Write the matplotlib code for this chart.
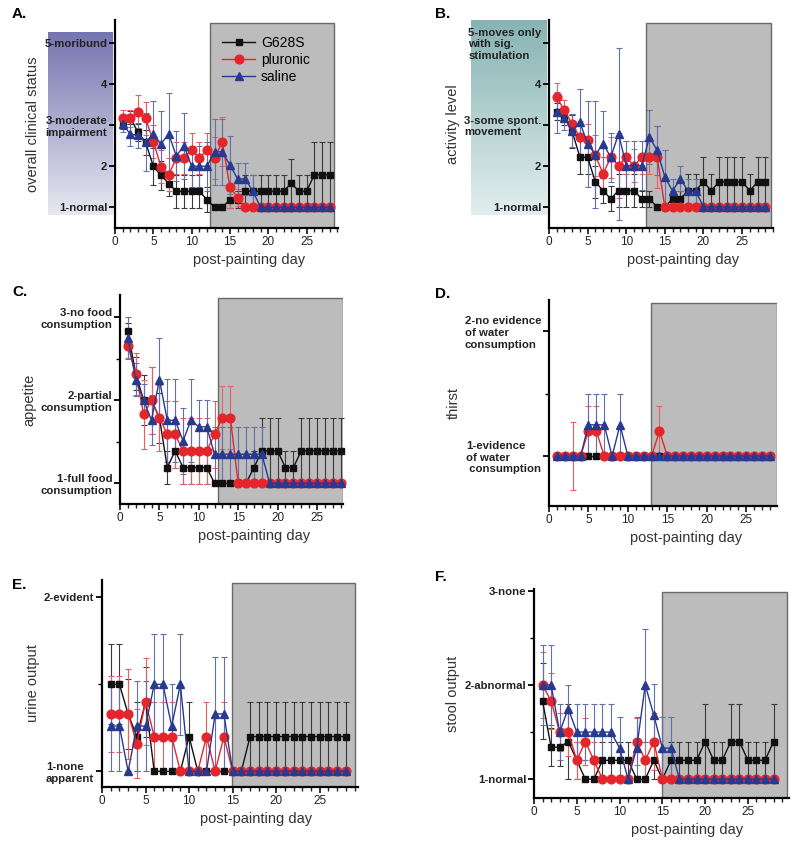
import matplotlib
matplotlib.use('Agg')
import matplotlib.pyplot as plt
import numpy as np
from matplotlib.colors import LinearSegmentedColormap
from matplotlib.ticker import MultipleLocator
from matplotlib.lines import Line2D

plt.rcParams['font.family'] = ['Liberation Sans', 'DejaVu Sans']

days = list(range(1, 29))
groups = ['G628S', 'pluronic', 'saline']

# A. overall clinical status
a_g628s = [3.0, 3.18, 2.82, 2.58, 2.0, 1.78, 1.58, 1.39, 1.39, 1.39, 1.39, 1.19, 1.0, 1.0,
           1.19, 1.19, 1.39, 1.39, 1.39, 1.39, 1.39, 1.39, 1.59, 1.39, 1.39, 1.79, 1.79, 1.79]
a_g628s_err = [0.1, 0.15, 0.2, 0.3, 0.45, 0.35, 0.3, 0.4, 0.4, 0.4, 0.4, 0.3, 0, 0,
               0.2, 0.2, 0.4, 0.4, 0.4, 0.4, 0.4, 0.4, 0.59, 0.4, 0.4, 0.79, 0.79, 0.79]
a_pluronic = [3.16, 3.16, 3.32, 3.16, 2.6, 1.99, 1.79, 2.2, 2.2, 2.4, 2.2, 2.4, 2.2, 2.6,
              1.49, 1.24, 1.0, 1.0, 1.0, 1.0, 1.0, 1.0, 1.0, 1.0, 1.0, 1.0, 1.0, 1.0]
a_pluronic_err = [0.2, 0.2, 0.4, 0.4, 0.4, 0.4, 0.4, 0.4, 0.4, 0.4, 0.4, 0.4, 0.5, 0.6,
                  0.5, 0.2, 0, 0, 0, 0, 0, 0, 0, 0, 0, 0, 0, 0]
a_saline = [3.02, 2.78, 2.75, 2.58, 2.78, 2.54, 2.78, 2.25, 2.5, 2.0, 2.0, 2.0, 2.35, 2.35,
            2.03, 1.69, 1.69, 1.39, 1.0, 1.0, 1.0, 1.0, 1.0, 1.0, 1.0, 1.0, 1.0, 1.0]
a_saline_err = [0.2, 0.3, 0.3, 0.7, 0.8, 0.8, 1.0, 0.6, 0.8, 0.5, 0.5, 0.6, 0.8, 0.8,
                0.7, 0.4, 0.4, 0.4, 0, 0, 0, 0, 0, 0, 0, 0, 0, 0]

# B. activity level
b_g628s = [3.32, 3.19, 2.84, 2.21, 2.21, 1.61, 1.4, 1.2, 1.4, 1.4, 1.4, 1.2, 1.2, 1.0,
           1.0, 1.2, 1.2, 1.4, 1.4, 1.61, 1.4, 1.61, 1.61, 1.61, 1.61, 1.4, 1.61, 1.61]
b_g628s_err = [0.2, 0.2, 0.4, 0.4, 0.4, 0.4, 0.3, 0.3, 0.4, 0.4, 0.4, 0.2, 0.2, 0,
               0, 0.2, 0.2, 0.4, 0.4, 0.6, 0.4, 0.6, 0.6, 0.6, 0.6, 0.4, 0.6, 0.6]
b_pluronic = [3.67, 3.35, 3.02, 2.7, 2.62, 2.26, 1.81, 2.21, 2.01, 2.21, 2.0, 2.21, 2.21, 2.21,
              1.0, 1.0, 1.0, 1.0, 1.0, 1.0, 1.0, 1.0, 1.0, 1.0, 1.0, 1.0, 1.0, 1.0]
b_pluronic_err = [0.35, 0.25, 0.25, 0.4, 0.4, 0.5, 0.4, 0.5, 0.8, 0.4, 0.4, 0.4, 0.4, 0.75,
                  0, 0, 0, 0, 0, 0, 0, 0, 0, 0, 0, 0, 0, 0]
b_saline = [3.31, 3.17, 2.86, 3.06, 2.54, 2.27, 2.54, 2.21, 2.78, 2.01, 2.01, 2.01, 2.7, 2.38,
            1.73, 1.39, 1.69, 1.39, 1.39, 1.0, 1.0, 1.0, 1.0, 1.0, 1.0, 1.0, 1.0, 1.0]
b_saline_err = [0.5, 0.3, 0.4, 0.8, 1.05, 1.3, 0.8, 0.6, 2.1, 0.6, 0.6, 0.6, 0.65, 0.6,
                0.65, 0.3, 0.3, 0.3, 0.3, 0, 0, 0, 0, 0, 0, 0, 0, 0]

# C. appetite
c_g628s = [2.83, 2.32, 2.0, 2.0, 1.79, 1.19, 1.39, 1.19, 1.19, 1.19, 1.19, 1.0, 1.0, 1.0,
           1.0, 1.0, 1.19, 1.39, 1.39, 1.39, 1.19, 1.19, 1.39, 1.39, 1.39, 1.39, 1.39, 1.39]
c_g628s_err = [0.1, 0.2, 0.3, 0.4, 0.3, 0.2, 0.2, 0.2, 0.2, 0.2, 0.2, 0, 0, 0,
               0, 0, 0.2, 0.4, 0.4, 0.4, 0.2, 0.2, 0.4, 0.4, 0.4, 0.4, 0.4, 0.4]
c_pluronic = [2.66, 2.32, 1.83, 2.0, 1.79, 1.59, 1.59, 1.39, 1.39, 1.39, 1.39, 1.59, 1.79, 1.79,
              1.0, 1.0, 1.0, 1.0, 1.0, 1.0, 1.0, 1.0, 1.0, 1.0, 1.0, 1.0, 1.0, 1.0]
c_pluronic_err = [0.15, 0.25, 0.42, 0.4, 0.4, 0.4, 0.4, 0.4, 0.4, 0.4, 0.4, 0.4, 0.38, 0.38,
                  0, 0, 0, 0, 0, 0, 0, 0, 0, 0, 0, 0, 0, 0]
c_saline = [2.75, 2.25, 2.0, 1.76, 2.25, 1.76, 1.76, 1.51, 1.76, 1.68, 1.68, 1.35, 1.35, 1.35,
            1.35, 1.35, 1.35, 1.35, 1.0, 1.0, 1.0, 1.0, 1.0, 1.0, 1.0, 1.0, 1.0, 1.0]
c_saline_err = [0.25, 0.2, 0.2, 0.3, 0.5, 0.5, 0.5, 0.4, 0.5, 0.33, 0.33, 0.33, 0.33, 0.33,
                0.33, 0.33, 0.33, 0.33, 0, 0, 0, 0, 0, 0, 0, 0, 0, 0]

# D. thirst
d_g628s = [1.0, 1.0, 1.0, 1.0, 1.0, 1.0, 1.0, 1.0, 1.0, 1.0, 1.0, 1.0, 1.0, 1.0,
           1.0, 1.0, 1.0, 1.0, 1.0, 1.0, 1.0, 1.0, 1.0, 1.0, 1.0, 1.0, 1.0, 1.0]
d_g628s_err = [0, 0, 0, 0, 0, 0, 0, 0, 0, 0, 0, 0, 0, 0,
               0, 0, 0, 0, 0, 0, 0, 0, 0, 0, 0, 0, 0, 0]
d_pluronic = [1.0, 1.0, 1.0, 1.0, 1.2, 1.2, 1.0, 1.0, 1.0, 1.0, 1.0, 1.0, 1.0, 1.2,
              1.0, 1.0, 1.0, 1.0, 1.0, 1.0, 1.0, 1.0, 1.0, 1.0, 1.0, 1.0, 1.0, 1.0]
d_pluronic_err = [0, 0, 0.27, 0, 0.2, 0.2, 0, 0, 0, 0, 0, 0, 0, 0.2,
                  0, 0, 0, 0, 0, 0, 0, 0, 0, 0, 0, 0, 0, 0]
d_saline = [1.0, 1.0, 1.0, 1.0, 1.25, 1.25, 1.25, 1.0, 1.25, 1.0, 1.0, 1.0, 1.0, 1.0,
            1.0, 1.0, 1.0, 1.0, 1.0, 1.0, 1.0, 1.0, 1.0, 1.0, 1.0, 1.0, 1.0, 1.0]
d_saline_err = [0, 0, 0, 0, 0.25, 0.25, 0.25, 0, 0.25, 0, 0, 0, 0, 0,
                0, 0, 0, 0, 0, 0, 0, 0, 0, 0, 0, 0, 0, 0]

# E. urine output
e_g628s = [1.5, 1.5, 1.33, 1.2, 1.4, 1.0, 1.0, 1.0, 1.0, 1.2, 1.0, 1.0, 1.0, 1.0,
           1.0, 1.0, 1.2, 1.2, 1.2, 1.2, 1.2, 1.2, 1.2, 1.2, 1.2, 1.2, 1.2, 1.2]
e_g628s_err = [0.23, 0.23, 0.2, 0.2, 0.2, 0, 0, 0, 0, 0.2, 0, 0, 0, 0,
               0, 0, 0.2, 0.2, 0.2, 0.2, 0.2, 0.2, 0.2, 0.2, 0.2, 0.2, 0.2, 0.2]
e_pluronic = [1.33, 1.33, 1.33, 1.16, 1.4, 1.2, 1.2, 1.2, 1.0, 1.0, 1.0, 1.2, 1.0, 1.2,
              1.0, 1.0, 1.0, 1.0, 1.0, 1.0, 1.0, 1.0, 1.0, 1.0, 1.0, 1.0, 1.0, 1.0]
e_pluronic_err = [0.22, 0.22, 0.26, 0.2, 0.25, 0.2, 0.2, 0.2, 0, 0, 0, 0.2, 0, 0.2,
                  0, 0, 0, 0, 0, 0, 0, 0, 0, 0, 0, 0, 0, 0]
e_saline = [1.26, 1.26, 1.0, 1.26, 1.26, 1.5, 1.5, 1.26, 1.5, 1.0, 1.0, 1.0, 1.33, 1.33,
            1.0, 1.0, 1.0, 1.0, 1.0, 1.0, 1.0, 1.0, 1.0, 1.0, 1.0, 1.0, 1.0, 1.0]
e_saline_err = [0.26, 0.26, 0, 0.26, 0.26, 0.29, 0.29, 0.24, 0.29, 0, 0, 0, 0.33, 0.33,
                0, 0, 0, 0, 0, 0, 0, 0, 0, 0, 0, 0, 0, 0]

# F. stool output
f_g628s = [1.83, 1.34, 1.34, 1.4, 1.2, 1.0, 1.0, 1.2, 1.2, 1.2, 1.2, 1.0, 1.0, 1.2,
           1.0, 1.2, 1.2, 1.2, 1.2, 1.4, 1.2, 1.2, 1.4, 1.4, 1.2, 1.2, 1.2, 1.4]
f_g628s_err = [0.4, 0.2, 0.2, 0.4, 0.2, 0, 0, 0.2, 0.2, 0.2, 0.2, 0, 0, 0.2,
               0, 0.2, 0.2, 0.2, 0.2, 0.4, 0.2, 0.2, 0.4, 0.4, 0.2, 0.2, 0.2, 0.4]
f_pluronic = [2.0, 1.83, 1.5, 1.5, 1.2, 1.4, 1.2, 1.0, 1.0, 1.0, 1.0, 1.4, 1.2, 1.4,
              1.0, 1.0, 1.0, 1.0, 1.0, 1.0, 1.0, 1.0, 1.0, 1.0, 1.0, 1.0, 1.0, 1.0]
f_pluronic_err = [0.35, 0.3, 0.2, 0.25, 0.2, 0.25, 0.2, 0, 0, 0, 0, 0.25, 0.2, 0.3,
                  0, 0, 0, 0, 0, 0, 0, 0, 0, 0, 0, 0, 0, 0]
f_saline = [2.0, 2.0, 1.5, 1.75, 1.5, 1.5, 1.5, 1.5, 1.5, 1.33, 1.0, 1.33, 2.0, 1.68,
            1.33, 1.33, 1.0, 1.0, 1.0, 1.0, 1.0, 1.0, 1.0, 1.0, 1.0, 1.0, 1.0, 1.0]
f_saline_err = [0.42, 0.42, 0.3, 0.25, 0.3, 0.3, 0.3, 0.3, 0.3, 0.33, 0, 0.33, 0.6, 0.33,
                0.33, 0.33, 0, 0, 0, 0, 0, 0, 0, 0, 0, 0, 0, 0]

# styles per group: line colour, error colour, marker, marker size
styles = {
    'G628S': ('#111111', '#3a3a3a', 's', 4.4),
    'pluronic': ('#e3262c', '#e46064', 'o', 6.3),
    'saline': ('#283a8f', '#6470ae', '^', 5.4),
}

W, H = 800, 847
fig = plt.figure(figsize=(8, 8.47), dpi=100)


def rect_px(l, r, t, b):
    return [l / W, 1 - b / H, (r - l) / W, (b - t) / H]


def gradient_box(l, r, t, b, top_col, bot_col):
    gax = fig.add_axes(rect_px(l, r, t, b), zorder=0)
    cmap = LinearSegmentedColormap.from_list('g', [bot_col, top_col])
    grad = np.linspace(1, 0, 256).reshape(-1, 1)
    gax.imshow(grad, cmap=cmap, aspect='auto', extent=[0, 1, 0, 1])
    gax.axis('off')


def panel(rect, letter, letter_xy, ylim, xmax, grey, yticks, ytlabels, yminor,
          ylabel, data, align='right', legend=False):
    ax = fig.add_axes(rect, zorder=1)
    ax.set_facecolor('none')
    ax.axvspan(grey[0], grey[1], ymin=0, ymax=0.985, facecolor='#bcbcbc',
               edgecolor='#6a6a6a', linewidth=1, zorder=0)
    for name, (vals, errs) in zip(groups, data):
        col, ecol, mk, ms = styles[name]
        ax.errorbar(days, vals, yerr=errs, color=col, marker=mk, ms=ms, lw=1,
                    ecolor=ecol, elinewidth=0.8, capsize=2.2, capthick=0.8,
                    zorder=3, clip_on=False)
    ax.set_xlim(0, xmax)
    ax.set_ylim(*ylim)
    ax.xaxis.set_major_locator(MultipleLocator(5))
    ax.xaxis.set_minor_locator(MultipleLocator(1))
    ax.set_xticks([0, 5, 10, 15, 20, 25])
    ax.set_yticks(yticks)
    ax.set_yticklabels(ytlabels, fontsize=8.2, fontweight='bold', color='#222222')
    for t in ax.get_yticklabels():
        t.set_multialignment(align)
    if yminor:
        ax.set_yticks(yminor, minor=True)
    ax.tick_params(axis='both', which='major', direction='out', length=4, width=1.3,
                   pad=1.5)
    ax.tick_params(axis='x', which='both', labelsize=8.5, colors='#222222')
    ax.tick_params(axis='x', which='minor', length=3, width=1.0)
    ax.tick_params(axis='y', which='minor', length=3, width=1.0)
    for s in ['top', 'right']:
        ax.spines[s].set_visible(False)
    for s in ['left', 'bottom']:
        ax.spines[s].set_linewidth(1.6)
    ax.set_xlabel('post-painting day', fontsize=10.5, color='#333333', labelpad=2)
    ax.xaxis.set_label_coords(0.6, -0.12)
    ax.set_ylabel(ylabel, fontsize=10.5, color='#333333', labelpad=3)
    fig.text(letter_xy[0] / W, 1 - letter_xy[1] / H, letter, fontsize=11,
             fontweight='bold', ha='left', va='center')
    if legend:
        handles = [Line2D([], [], color=styles[g][0], marker=styles[g][2],
                          ms=styles[g][3], lw=1) for g in groups]
        ax.legend(handles, groups, loc='upper left', bbox_to_anchor=(0.455, 0.95),
                  frameon=False, fontsize=10, handlelength=2.4, handletextpad=0.4,
                  labelspacing=0.2, borderaxespad=0)
    return ax


gradient_box(48, 113, 32, 215, '#7474b0', '#e8e8f1')
gradient_box(471, 547, 20, 215, '#86b3b3', '#e3eeee')

panel(rect_px(115, 338, 20, 228), 'A.', (12, 14), (0.5, 5.55), 29.1, (12.4, 28.6),
      [1, 2, 3, 4, 5], ['1-normal', '2', '3-moderate\nimpairment', '4', '5-moribund'],
      None, 'overall clinical status',
      [(a_g628s, a_g628s_err), (a_pluronic, a_pluronic_err), (a_saline, a_saline_err)],
      align='right', legend=True)

panel(rect_px(549, 773, 20, 228), 'B.', (435, 14), (0.49, 5.55), 29.0, (12.5, 28.7),
      [1, 2, 3, 4, 5], ['1-normal', '2', '3-some spont.\nmovement', '4',
                        '5-moves only\nwith sig.\nstimulation'],
      None, 'activity level',
      [(b_g628s, b_g628s_err), (b_pluronic, b_pluronic_err), (b_saline, b_saline_err)],
      align='left')

panel(rect_px(120, 343, 295, 504), 'C.', (12, 292), (0.75, 3.27), 28.3, (12.5, 28.3),
      [1, 2, 3], ['1-full food\nconsumption', '2-partial\nconsumption',
                  '3-no food\nconsumption'],
      [1.5, 2.5], 'appetite',
      [(c_g628s, c_g628s_err), (c_pluronic, c_pluronic_err), (c_saline, c_saline_err)],
      align='right')

panel(rect_px(549, 777, 300, 506), 'D.', (435, 294), (0.6, 2.25), 28.9, (12.9, 28.85),
      [1, 2], ['1-evidence\nof water\n consumption', '2-no evidence\nof water\nconsumption'],
      [1.5], 'thirst',
      [(d_g628s, d_g628s_err), (d_pluronic, d_pluronic_err), (d_saline, d_saline_err)],
      align='left')

panel(rect_px(102, 358, 580, 787), 'E.', (12, 585), (0.91, 2.1), 29.4, (14.9, 29.1),
      [1, 2], ['1-none\napparent', '2-evident'],
      [1.5], 'urine output',
      [(e_g628s, e_g628s_err), (e_pluronic, e_pluronic_err), (e_saline, e_saline_err)],
      align='left')

panel(rect_px(534, 789, 589, 798), 'F.', (435, 577), (0.8, 3.02), 29.8, (15.0, 29.6),
      [1, 2, 3], ['1-normal', '2-abnormal', '3-none'],
      [1.5, 2.5], 'stool output',
      [(f_g628s, f_g628s_err), (f_pluronic, f_pluronic_err), (f_saline, f_saline_err)],
      align='right')

fig.savefig('out.png', dpi=100)
